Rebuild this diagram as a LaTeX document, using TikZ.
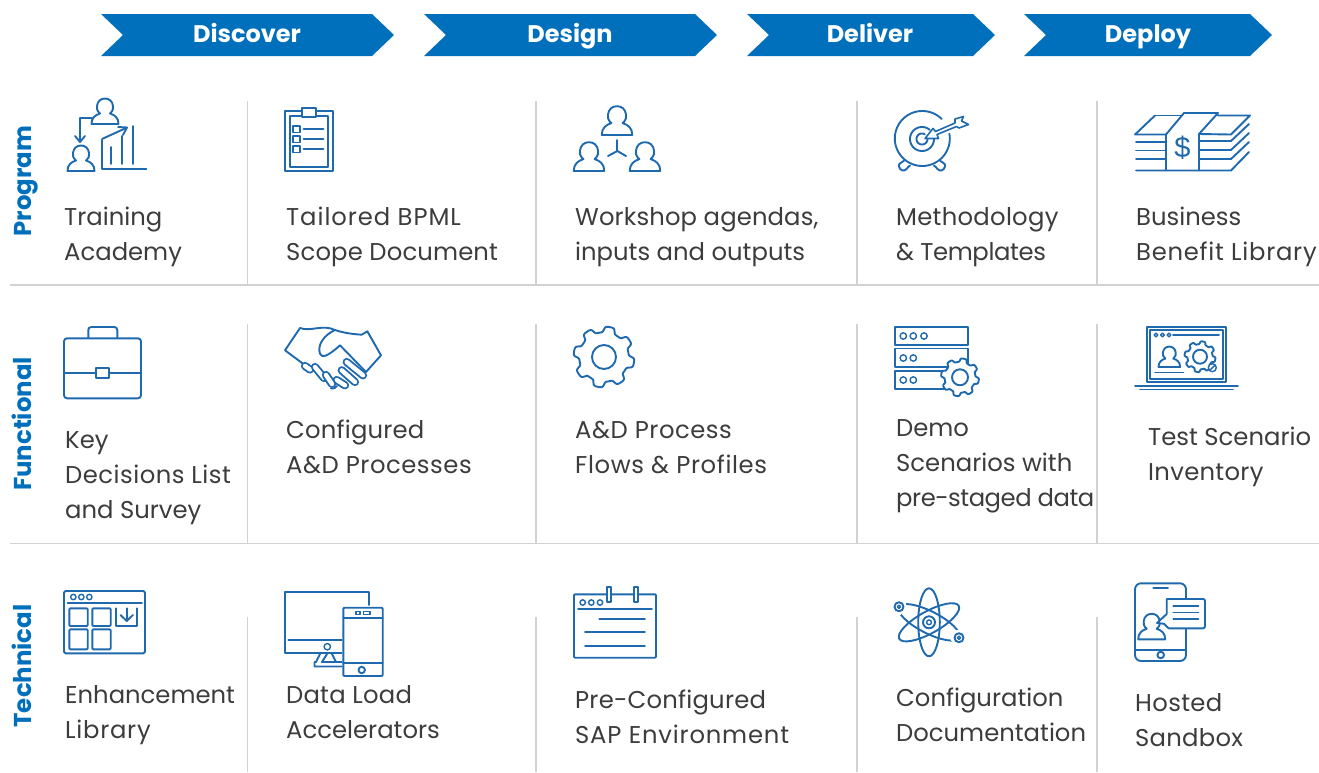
\documentclass[tikz,border=0pt]{standalone}
\usepackage{fontspec}
\setmainfont{Poppins}
\newfontfamily\dollarfont{Liberation Sans}
\usetikzlibrary{calc}
\definecolor{bandblue}{HTML}{0070BC}
\definecolor{iconblue}{HTML}{1F69AE}
\definecolor{rulegray}{HTML}{D2D2D2}
\definecolor{txtgray}{HTML}{3C3C3C}
\newcommand{\ls}[2]{{\addfontfeature{LetterSpace=#1}#2}}
\tikzset{
  x=1pt,y=-1pt,
  chevron/.style={fill=bandblue,draw=none},
  headtext/.style={text=white,font=\fontsize{24}{28}\selectfont\bfseries,inner sep=0pt,anchor=base},
  rowlabel/.style={text=bandblue,font=\fontsize{24.4}{28}\selectfont\bfseries,rotate=90,inner sep=0pt,anchor=base},
  item/.style={text=txtgray,font=\fontsize{24.3}{34.6}\selectfont,align=left,anchor=base west,inner sep=0pt},
  sep/.style={draw=rulegray,line width=1.1pt},
  icon/.style={draw=iconblue,line width=1.9pt,line join=round,line cap=round},
  thin icon/.style={icon,line width=1.4pt},
  personicon/.pic={\path[icon,fill=white,pic actions] (-13.5,0) -- (13.5,0) .. controls (13.5,-6) and (10,-9) .. (5,-10.5) .. controls (8,-13) and (8.5,-16) .. (8,-18) .. controls (7.5,-23) and (4,-25.5) .. (0,-25.5) .. controls (-4,-25.5) and (-7.5,-23) .. (-8,-18) .. controls (-8.5,-16) and (-8,-13) .. (-5,-10.5) .. controls (-10,-9) and (-13.5,-6) .. (-13.5,0) -- cycle;},
}
\newcommand{\gearicon}[5]{% cx cy R r phase
  \draw[icon,fill=white] plot[domain=0:360,samples=193,smooth] ({#1+#3*(0.905+0.095*tanh(2.6*sin(8*\x+#5)))*cos(\x)},{#2+#3*(0.905+0.095*tanh(2.6*sin(8*\x+#5)))*sin(\x)}) -- cycle;
  \draw[icon] (#1,#2) circle[radius=#4];}
\begin{document}
\begin{tikzpicture}
\useasboundingbox (0,0) rectangle (1319,772);
% process band
\path[chevron] (101,14) -- (372,14) -- (394,35) -- (372,56) -- (101,56) -- (123,35) -- cycle;
\path[chevron] (424,14) -- (695,14) -- (717,35) -- (695,56) -- (424,56) -- (446,35) -- cycle;
\path[chevron] (747,14) -- (973,14) -- (995,35) -- (973,56) -- (747,56) -- (769,35) -- cycle;
\path[chevron] (1024,14) -- (1250,14) -- (1272,35) -- (1250,56) -- (1024,56) -- (1046,35) -- cycle;
\node[headtext] (hd1) at (247,42) {Discover};
\node[headtext] (hd2) at (570,42) {Design};
\node[headtext] (hd3) at (870,42) {Deliver};
\node[headtext] (hd4) at (1148,42) {Deploy};
% rows
\node[rowlabel] (rl1) at (31,181) {Program};
\node[rowlabel] (rl2) at (31,424) {Functional};
\node[rowlabel] (rl3) at (31,666) {Technical};
% rules
\draw[sep] (10,285) -- (1319,285);
\draw[sep] (10,543.5) -- (1319,543.5);
\foreach \xx in {247.5,536,857,1097}{
  \draw[sep] (\xx,101) -- (\xx,284);
  \draw[sep] (\xx,324) -- (\xx,543);
  \draw[sep] (\xx,617) -- (\xx,772);
}
% texts
\node[item] (t11) at (64,260) {Training\\Academy};
\node[item] (t12) at (286,260) {\ls{3.8}{Tailored BPML}\\\ls{0.6}{Scope Document}};
\node[item] (t13) at (575,260) {\ls{0.5}{Workshop agendas,}\\inputs and outputs};
\node[item] (t14) at (896,260) {\ls{1.1}{Methodology}\\\ls{-1.5}{\& Templates}};
\node[item] (t15) at (1136,260) {Business\\\ls{3}{Benefit Library}};
\node[item] (t21) at (65,518) {Key\\\ls{2}{Decisions List}\\and Survey};
\node[item] (t22) at (286,473) {\ls{0.8}{Configured}\\\ls{2.2}{A\&D Processes}};
\node[item] (t23) at (575,473) {\ls{2.2}{A\&D Process}\\\ls{2.6}{Flows \& Profiles}};
\node[item] (t24) at (896,506) {Demo\\Scenarios with\\\ls{-2}{pre-staged data}};
\node[item] (t25) at (1148,480) {Test Scenario\\\ls{1.2}{Inventory}};
\node[item] (t31) at (65,738) {Enhancement\\\ls{3}{Library}};
\node[item] (t32) at (286,738) {\ls{0.9}{Data Load}\\Accelerators};
\node[item] (t33) at (575,743) {\ls{0.9}{Pre-Configured}\\\ls{3.3}{SAP Environment}};
\node[item] (t34) at (896,741) {Configuration\\Documentation};
\node[item] (t35) at (1135,746) {\ls{1.4}{Hosted}\\\ls{1}{Sandbox}};
% --- Training icon
\pic at (105,124) {personicon};
\pic at (81,171) {personicon};
\draw[icon] (92,118) -- (80,118) -- (80,141);
\draw[icon] (75,136) -- (80,142) -- (85,136);
\draw[icon] (102,140) -- (102,169) -- (146.5,169);
\draw[icon] (111,147) -- (111,164);
\draw[icon] (122,136) -- (122,164);
\draw[icon] (133,126) -- (133,164);
\draw[icon] (102,139) -- (126,128);
\draw[icon] (118,127) -- (127,127.5) -- (123,135);
% --- Clipboard
\draw[icon] (285,111) rectangle (332.7,170.7);
\draw[icon] (290,116) rectangle (328,167);
\draw[icon,fill=white] (302,108) rectangle (315.7,117);
\foreach \yy in {126,136,146}{
  \draw[icon] (293.3,\yy) rectangle (300,\yy+6.5);
  \draw[icon] (303.5,\yy+3.2) -- (323.5,\yy+3.2);
}
% --- Workshop
\pic[scale=1.13] at (617,135) {personicon};
\pic[scale=1.13] at (589,171) {personicon};
\pic[scale=1.13] at (645,171) {personicon};
\draw[icon] (617.3,151) -- (617.3,140);
\draw[icon] (617.3,151) -- (608,156);
\draw[icon] (617.3,151) -- (626,156);
% --- Target
\draw[icon] plot[domain=-10:315,samples=70,smooth] ({922.3+27.5*cos(\x)},{138.5+27.5*sin(\x)});
\draw[icon] plot[domain=-5:310,samples=60,smooth] ({922+12*cos(\x)},{139+12*sin(\x)});
\draw[icon] plot[domain=5:300,samples=50,smooth] ({922+5.5*cos(\x)},{139+5.5*sin(\x)});
\draw[icon,fill=white] (904,160.7) .. controls (902,163) and (898,163) .. (899,166.5) .. controls (900,170.5) and (904,172) .. (906.5,169) .. controls (908,167) and (909,166) .. (910,165.7);
\draw[icon,fill=white] (940,160.7) .. controls (942,163) and (946,163) .. (945,166.5) .. controls (944,170.5) and (940,172) .. (937.5,169) .. controls (936,167) and (935,166) .. (934,165.7);
\draw[icon,fill=white,line width=1.6pt] (925,138.5) -- (933,128.5) -- (935.5,131.5) -- (955,123) -- (955,119) -- (963.5,116.5) -- (961.5,121) -- (968.5,124.5) -- (959,128) -- (956.5,126.5) -- (937,134.5) -- (938.5,138.5) -- cycle;
% --- Money
\draw[icon] (1155,115.5) -- (1135,134.5) -- (1166,134.5) -- (1184,113) -- (1218,113) -- (1199,134) -- (1231,134.5) -- (1250,115.5) -- (1218,115.5);
\draw[icon] (1155,115.5) -- (1182,115.5);
\draw[icon] (1166,134.5) -- (1166,170.5);
\draw[icon] (1199,134) -- (1199,170.5);
\draw[icon] (1136,170.5) -- (1231,170.5) -- (1249,152);
\foreach \yy in {142,150.5,159}{\draw[icon] (1136,\yy) -- (1166,\yy);}
\foreach \yy in {141,150,159}{\draw[icon] (1199,\yy) -- (1231,\yy) -- (1249,\yy-17);}
\node[text=iconblue,font=\fontsize{29}{30}\dollarfont,inner sep=0pt] (dollar) at (1182.5,148) {\$};
% --- Briefcase
\draw[icon] (88.3,338) -- (88.3,330) .. controls (88.3,328) and (89.5,327) .. (91.5,327) -- (114,327) .. controls (116,327) and (117.3,328) .. (117.3,330) -- (117.3,338);
\draw[icon,rounded corners=3pt] (64,338.3) rectangle (141,398.3);
\draw[icon] (64,372.7) -- (141,372.7);
\draw[icon,fill=white] (95.7,367.7) rectangle (109.3,378.3);
% --- Handshake
\draw[icon] (303,363.7) -- (285,350.3) -- (300,328) .. controls (310,332) and (323,324) .. (335,330) .. controls (344,333) and (352,334) .. (361.7,334.7) -- (367.3,331.3) -- (381,355.3) -- (366,372);
\draw[icon] (335,330) .. controls (324,335) and (317,345) .. (320,353.7) .. controls (322,358) and (327,357) .. (340,345.3) -- (366,372);
\foreach \sx/\sy/\ex/\ey in {346.7/362/363/375.3,341.7/370.3/355/382,336.7/380/345/385.3,
                             305/366/310/369.5,315/367/324/378,326/375/332/384}{
  \draw[iconblue,line width=8.2pt,line cap=round] (\sx,\sy) -- (\ex,\ey);
  \draw[white,line width=4.4pt,line cap=round] (\sx,\sy) -- (\ex,\ey);
}
\draw[icon] (331,388.5) .. controls (333,389) and (336,388) .. (337,386);
% --- Gear
\gearicon{604}{357}{30.5}{12}{0}
% --- Server icon
\foreach \yy/\yb in {326.7/345,348.5/367,370.7/389}{\draw[icon] (895,\yy) rectangle (968.3,\yb);}
\foreach \cx/\cy in {903.3/336,913.3/336,924/336,903.3/358,913.3/358,903.3/380,913.3/380}{\draw[thin icon] (\cx,\cy) circle[radius=3.2];}
\gearicon{960}{377.3}{19}{8}{0}
% --- Test scenario
\draw[icon] (1146.7,326.7) rectangle (1226,382.3);
\draw[icon] (1150,330) rectangle (1222.7,379);
\draw[icon] (1135,386) -- (1238,386);
\draw[icon] (1140,389.5) -- (1233,389.5);
\foreach \cx in {1156,1162.5,1169}{\draw[thin icon] (\cx,335) circle[radius=1.8];}
\draw[icon] (1173,335) -- (1219,335);
\pic[scale=0.8] at (1169.3,367) {personicon};
\draw[icon] (1155,372.5) -- (1183.3,372.5);
\gearicon{1200}{356.7}{15.5}{7}{0}
\draw[thin icon,fill=white] (1212.3,367.7) circle[radius=4];
\draw[thin icon] (1210.3,369.7) -- (1214.3,365.7);
% --- Enhancement
\draw[icon,rounded corners=1.5pt] (64,591) rectangle (145,653.3);
\draw[icon] (67.7,602.7) -- (142,602.7);
\foreach \cx in {73.3,81.3,89.3}{\draw[thin icon] (\cx,597) circle[radius=2.7];}
\foreach \ax/\ay/\bx/\by in {69.3/608.3/87.7/626,92.3/608.3/110.7/626,69.3/629.3/87.7/649.3,92.3/629.3/110.7/649.3}{\draw[icon,rounded corners=1pt] (\ax,\ay) rectangle (\bx,\by);}
\draw[icon] (115.7,608.3) -- (115.7,626) -- (137.3,626) -- (137.3,608.3);
\draw[icon] (126.7,608.3) -- (126.7,621);
\draw[icon] (120.5,615) -- (126.7,621) -- (132.9,615);
% --- Data load
\draw[icon] (341.7,653.3) -- (285,653.3) -- (285,591.7) -- (369.3,591.7) -- (369.3,605);
\draw[icon] (288.3,640) -- (341.7,640);
\draw[thin icon] (327.3,646.7) circle[radius=3.2];
\draw[icon] (320,654) -- (316,662) -- (314.5,662) -- (314.5,666.5) -- (341.7,666.5);
\draw[icon] (327,654) -- (322,662) -- (341.7,662);
\draw[icon] (332,654) -- (336,662);
\draw[icon,rounded corners=1pt] (343.3,607.7) rectangle (382.7,676);
\draw[icon] (343.3,618.3) -- (382.7,618.3);
\draw[icon] (343.3,662.7) -- (382.7,662.7);
\draw[thin icon] (356,611.7) rectangle (360,614.7);
\draw[thin icon] (363.3,611.7) rectangle (370,614.7);
\draw[icon] (361.7,670) circle[radius=3.2];
% --- Calendar
\draw[icon,rounded corners=1pt] (574,594.3) rectangle (656,657.7);
\draw[icon] (578,609) -- (652,609);
\foreach \cx in {582.7,591.3,600}{\draw[thin icon] (\cx,602.5) circle[radius=2.7];}
\draw[icon,fill=white] (606.7,586.7) rectangle (610.7,601.7);
\draw[icon,fill=white] (634.3,586.7) rectangle (638.3,601.7);
\draw[icon] (599.3,619) -- (645,619);
\draw[icon] (585,632.3) -- (645,632.3);
\draw[icon] (585,645.7) -- (645,645.7);
% --- Atom
\draw[icon] (929,622.3) ellipse[x radius=10.8,y radius=34];
\draw[icon,rotate around={-27:(929,622.3)}] (929,622.3) ellipse[x radius=34,y radius=11];
\draw[icon,rotate around={29:(929,622.3)}] (929,622.3) ellipse[x radius=34,y radius=11];
\foreach \cx/\cy in {899/606.7,959/637.7}{
  \draw[white,fill=white,line width=0pt] (\cx,\cy) circle[radius=7.5];
  \draw[icon] (\cx,\cy) circle[radius=4.5];
  \draw[thin icon] (\cx,\cy) circle[radius=1.6];
}
\draw[icon,fill=white] (929,622.3) circle[radius=6];
\draw[thin icon] (929,622.3) circle[radius=2.4];
% --- Hosted
\draw[icon,rounded corners=6pt] (1135,583.3) rectangle (1186,661);
\draw[icon] (1135,650) -- (1186,650);
\draw[icon] (1153.3,588.3) -- (1168,588.3);
\draw[icon] (1160.7,655) circle[radius=3.3];
\pic at (1151.7,639.3) {personicon};
\draw[icon,fill=white,rounded corners=2pt] (1166.7,599) -- (1205,599) -- (1205,628.3) -- (1166.7,628.3) -- (1166,624) [sharp corners] -- (1157,623) -- (1166.7,614) -- cycle;
\draw[icon] (1173.3,606) -- (1198.3,606);
\draw[icon] (1173.3,612.5) -- (1198.3,612.5);
\draw[icon] (1173.3,619.3) -- (1198.3,619.3);
\end{tikzpicture}
\end{document}
